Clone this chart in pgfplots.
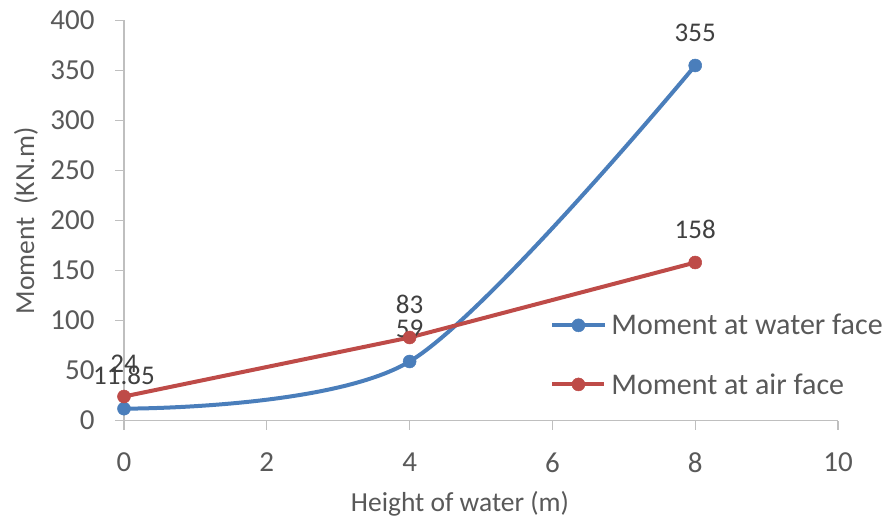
\documentclass[border=0pt]{standalone}
\usepackage{fontspec}
\setmainfont{Carlito}
\usepackage{pgfplots}
\pgfplotsset{compat=1.18}
\definecolor{wblue}{HTML}{4A7EBB}
\definecolor{ared}{HTML}{BE4B48}
\definecolor{tgray}{HTML}{595959}
\definecolor{lgray}{HTML}{BFBFBF}
\definecolor{dgray}{HTML}{404040}
\begin{document}
\begin{tikzpicture}
\begin{axis}[
  scale only axis, width=714pt, height=400pt,
  xmin=0, xmax=10, ymin=0, ymax=400,
  xtick={0,2,...,10}, ytick={0,50,...,400},
  axis x line=bottom, axis y line=left,
  axis line style={-, lgray, line width=1.3pt},
  tick style={lgray, line width=1.3pt}, tick align=outside, major tick length=9pt,
  ticklabel style={font=\fontsize{29}{35}\selectfont, text=tgray},
  yticklabel style={xshift=-17pt},
  xticklabel style={yshift=-20pt},
  /pgf/number format/assume math mode=true,
  xlabel={Height of water (m)}, ylabel={Moment\ \ (KN.m)},
  label style={font=\fontsize{27.5}{33}\selectfont, text=tgray},
  xlabel style={at={(axis description cs:0.4706,-0.2075)}, anchor=center},
  ylabel style={at={(axis description cs:-0.1373,0.5)}, anchor=center},
  clip=false,
  legend style={draw=none, fill=none, at={(axis description cs:0.597,0.164)}, anchor=west,
    inner sep=0pt, row sep=37pt, font=\fontsize{30}{36}\selectfont, text=tgray,
    nodes={inner sep=0pt}, /tikz/every odd column/.append style={column sep=5pt}},
  legend cell align=left,
  legend image code/.code={\draw[mark repeat=2,mark phase=2,#1] plot coordinates {(0pt,0pt) (26pt,0pt) (52pt,0pt)};},
  nodes near coords={\pgfplotspointmeta},
  point meta=explicit symbolic,
  every node near coord/.append style={font=\fontsize{27}{32}\selectfont, text=dgray, anchor=center, yshift=33pt, inner sep=0pt},
]
\addplot[wblue, line width=4pt, smooth, tension=0.5, mark=*, mark size=6.5pt, mark options={solid, fill=wblue, draw=wblue, line width=0.5pt}]
  coordinates {(0,11.85) [11.85] (4,59) [59] (8,355) [355]};
\addlegendentry{Moment at water face}
\addplot[ared, line width=4pt, mark=*, mark size=6.5pt, mark options={solid, fill=ared, draw=ared, line width=0.5pt}]
  coordinates {(0,24) [24] (4,83) [83] (8,158) [158]};
\addlegendentry{Moment at air face}
\end{axis}
\pgfresetboundingbox
\path[use as bounding box] (-124pt,-99.5pt) rectangle (768pt,420.5pt);
\end{tikzpicture}
\end{document}
